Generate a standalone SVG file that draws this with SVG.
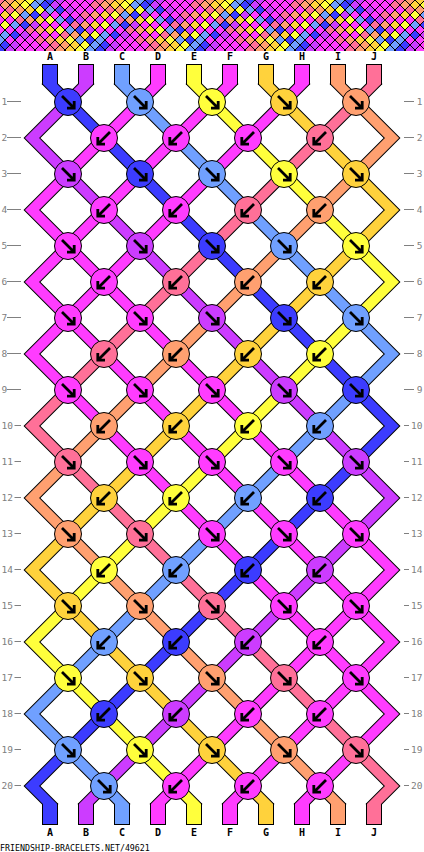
<svg xmlns="http://www.w3.org/2000/svg" xmlns:xlink="http://www.w3.org/1999/xlink" width="424" height="852" viewBox="0 0 424 852">
<style>
.bl{fill:#3c3cff}.pu{fill:#cc3cff}.lb{fill:#70a0ff}.ma{fill:#ff3cff}.ye{fill:#ffff3c}.go{fill:#ffd23c}.sa{fill:#ffa070}.pk{fill:#ff7098}
.dm{stroke:#000;stroke-width:1}
.o{fill:none;stroke:#000;stroke-width:12;stroke-linejoin:miter;stroke-linecap:square}
.c{fill:none;stroke-width:10;stroke-linejoin:miter;stroke-linecap:square}
.kn circle{stroke:#000;stroke-width:1}
.ar{fill:none;stroke:#000;stroke-width:2.8;stroke-linejoin:miter}
.let{font-family:"DejaVu Sans Mono","Liberation Mono",monospace;font-weight:bold;font-size:10px;text-anchor:middle;fill:#000}
.rn{font-family:"DejaVu Sans Mono","Liberation Mono",monospace;font-size:9.5px;fill:#808080}
.rr{text-anchor:end}
.dash{stroke:#808080;stroke-width:1}
.ft{font-family:"DejaVu Sans Mono","Liberation Mono",monospace;font-size:8.3px;fill:#000}
</style>
<defs>
<path id="dm" d="M-5,0L0,-5L5,0L0,5Z"/>
<path id="fw" class="ar" d="M-6,-6L5.5,5.5M6.2,-1V6.2H-1"/>
<path id="bw" class="ar" d="M6,-6L-5.5,5.5M-6.2,-1V6.2H1"/>
<path id="pA" d="M50,84L392,426L32,786L50,804"/>
<path id="pB" d="M86,84L32,138L392,498L86,804"/>
<path id="pC" d="M122,84L392,354L32,714L122,804"/>
<path id="pD" d="M158,84L32,210L392,570L158,804"/>
<path id="pE" d="M194,84L392,282L32,642L194,804"/>
<path id="pF" d="M230,84L32,282L392,642L230,804"/>
<path id="pG" d="M266,84L392,210L32,570L266,804"/>
<path id="pH" d="M302,84L32,354L392,714L302,804"/>
<path id="pI" d="M338,84L392,138L32,498L338,804"/>
<path id="pJ" d="M374,84L32,426L392,786L374,804"/>
<pattern id="strip" patternUnits="userSpaceOnUse" x="0" y="0" width="100" height="60">
<g class="dm">
<use href="#dm" x="0" y="50" class="bl"/><use href="#dm" x="0" y="40" class="lb"/><use href="#dm" x="0" y="30" class="ma"/><use href="#dm" x="0" y="20" class="ma"/><use href="#dm" x="0" y="10" class="ma"/><use href="#dm" x="0" y="0" class="pk"/>
<use href="#dm" x="5" y="45" class="bl"/><use href="#dm" x="5" y="35" class="lb"/><use href="#dm" x="5" y="25" class="ye"/><use href="#dm" x="5" y="15" class="go"/><use href="#dm" x="5" y="5" class="sa"/>
<use href="#dm" x="10" y="50" class="pu"/><use href="#dm" x="10" y="40" class="ma"/><use href="#dm" x="10" y="30" class="ma"/><use href="#dm" x="10" y="20" class="ma"/><use href="#dm" x="10" y="10" class="pk"/><use href="#dm" x="10" y="0" class="sa"/>
<use href="#dm" x="15" y="45" class="pu"/><use href="#dm" x="15" y="35" class="bl"/><use href="#dm" x="15" y="25" class="lb"/><use href="#dm" x="15" y="15" class="ye"/><use href="#dm" x="15" y="5" class="go"/>
<use href="#dm" x="20" y="50" class="ma"/><use href="#dm" x="20" y="40" class="ma"/><use href="#dm" x="20" y="30" class="ma"/><use href="#dm" x="20" y="20" class="pk"/><use href="#dm" x="20" y="10" class="sa"/><use href="#dm" x="20" y="0" class="go"/>
<use href="#dm" x="25" y="45" class="ma"/><use href="#dm" x="25" y="35" class="pu"/><use href="#dm" x="25" y="25" class="bl"/><use href="#dm" x="25" y="15" class="lb"/><use href="#dm" x="25" y="5" class="ye"/>
<use href="#dm" x="30" y="50" class="ma"/><use href="#dm" x="30" y="40" class="ma"/><use href="#dm" x="30" y="30" class="pk"/><use href="#dm" x="30" y="20" class="sa"/><use href="#dm" x="30" y="10" class="go"/><use href="#dm" x="30" y="0" class="ye"/>
<use href="#dm" x="35" y="45" class="ma"/><use href="#dm" x="35" y="35" class="ma"/><use href="#dm" x="35" y="25" class="pu"/><use href="#dm" x="35" y="15" class="bl"/><use href="#dm" x="35" y="5" class="lb"/>
<use href="#dm" x="40" y="50" class="ma"/><use href="#dm" x="40" y="40" class="pk"/><use href="#dm" x="40" y="30" class="sa"/><use href="#dm" x="40" y="20" class="go"/><use href="#dm" x="40" y="10" class="ye"/><use href="#dm" x="40" y="0" class="lb"/>
<use href="#dm" x="45" y="45" class="ma"/><use href="#dm" x="45" y="35" class="ma"/><use href="#dm" x="45" y="25" class="ma"/><use href="#dm" x="45" y="15" class="pu"/><use href="#dm" x="45" y="5" class="bl"/>
<use href="#dm" x="50" y="50" class="pk"/><use href="#dm" x="50" y="40" class="sa"/><use href="#dm" x="50" y="30" class="go"/><use href="#dm" x="50" y="20" class="ye"/><use href="#dm" x="50" y="10" class="lb"/><use href="#dm" x="50" y="0" class="bl"/>
<use href="#dm" x="55" y="45" class="pk"/><use href="#dm" x="55" y="35" class="ma"/><use href="#dm" x="55" y="25" class="ma"/><use href="#dm" x="55" y="15" class="ma"/><use href="#dm" x="55" y="5" class="pu"/>
<use href="#dm" x="60" y="50" class="sa"/><use href="#dm" x="60" y="40" class="go"/><use href="#dm" x="60" y="30" class="ye"/><use href="#dm" x="60" y="20" class="lb"/><use href="#dm" x="60" y="10" class="bl"/><use href="#dm" x="60" y="0" class="pu"/>
<use href="#dm" x="65" y="45" class="sa"/><use href="#dm" x="65" y="35" class="pk"/><use href="#dm" x="65" y="25" class="ma"/><use href="#dm" x="65" y="15" class="ma"/><use href="#dm" x="65" y="5" class="ma"/>
<use href="#dm" x="70" y="50" class="go"/><use href="#dm" x="70" y="40" class="ye"/><use href="#dm" x="70" y="30" class="lb"/><use href="#dm" x="70" y="20" class="bl"/><use href="#dm" x="70" y="10" class="pu"/><use href="#dm" x="70" y="0" class="ma"/>
<use href="#dm" x="75" y="45" class="go"/><use href="#dm" x="75" y="35" class="sa"/><use href="#dm" x="75" y="25" class="pk"/><use href="#dm" x="75" y="15" class="ma"/><use href="#dm" x="75" y="5" class="ma"/>
<use href="#dm" x="80" y="50" class="ye"/><use href="#dm" x="80" y="40" class="lb"/><use href="#dm" x="80" y="30" class="bl"/><use href="#dm" x="80" y="20" class="pu"/><use href="#dm" x="80" y="10" class="ma"/><use href="#dm" x="80" y="0" class="ma"/>
<use href="#dm" x="85" y="45" class="ye"/><use href="#dm" x="85" y="35" class="go"/><use href="#dm" x="85" y="25" class="sa"/><use href="#dm" x="85" y="15" class="pk"/><use href="#dm" x="85" y="5" class="ma"/>
<use href="#dm" x="90" y="50" class="lb"/><use href="#dm" x="90" y="40" class="bl"/><use href="#dm" x="90" y="30" class="pu"/><use href="#dm" x="90" y="20" class="ma"/><use href="#dm" x="90" y="10" class="ma"/><use href="#dm" x="90" y="0" class="ma"/>
<use href="#dm" x="95" y="45" class="lb"/><use href="#dm" x="95" y="35" class="ye"/><use href="#dm" x="95" y="25" class="go"/><use href="#dm" x="95" y="15" class="sa"/><use href="#dm" x="95" y="5" class="pk"/>
<use href="#dm" x="100" y="50" class="bl"/><use href="#dm" x="100" y="40" class="lb"/><use href="#dm" x="100" y="30" class="ma"/><use href="#dm" x="100" y="20" class="ma"/><use href="#dm" x="100" y="10" class="ma"/><use href="#dm" x="100" y="0" class="pk"/>
</g>
</pattern>
</defs>
<rect width="424" height="852" fill="#fff"/>
<g id="preview"><rect x="0" y="0" width="424" height="51" fill="url(#strip)"/></g>
<g id="letters" class="let">
<text x="50" y="60">A</text><text x="86" y="60">B</text><text x="122" y="60">C</text><text x="158" y="60">D</text><text x="194" y="60">E</text><text x="230" y="60">F</text><text x="266" y="60">G</text><text x="302" y="60">H</text><text x="338" y="60">I</text><text x="374" y="60">J</text>
<text x="50" y="836">A</text><text x="86" y="836">B</text><text x="122" y="836">C</text><text x="158" y="836">D</text><text x="194" y="836">E</text><text x="230" y="836">F</text><text x="266" y="836">G</text><text x="302" y="836">H</text><text x="338" y="836">I</text><text x="374" y="836">J</text>
</g>
<g id="row-labels">
<g class="rn">
<text x="1.5" y="105.3">1</text><text x="1.5" y="141.3">2</text><text x="1.5" y="177.3">3</text><text x="1.5" y="213.3">4</text><text x="1.5" y="249.3">5</text><text x="1.5" y="285.3">6</text><text x="1.5" y="321.3">7</text><text x="1.5" y="357.3">8</text><text x="1.5" y="393.3">9</text><text x="1.5" y="429.3">10</text><text x="1.5" y="465.3">11</text><text x="1.5" y="501.3">12</text><text x="1.5" y="537.3">13</text><text x="1.5" y="573.3">14</text><text x="1.5" y="609.3">15</text><text x="1.5" y="645.3">16</text><text x="1.5" y="681.3">17</text><text x="1.5" y="717.3">18</text><text x="1.5" y="753.3">19</text><text x="1.5" y="789.3">20</text>
</g>
<g class="rn rr">
<text x="422.5" y="105.3">1</text><text x="422.5" y="141.3">2</text><text x="422.5" y="177.3">3</text><text x="422.5" y="213.3">4</text><text x="422.5" y="249.3">5</text><text x="422.5" y="285.3">6</text><text x="422.5" y="321.3">7</text><text x="422.5" y="357.3">8</text><text x="422.5" y="393.3">9</text><text x="422.5" y="429.3">10</text><text x="422.5" y="465.3">11</text><text x="422.5" y="501.3">12</text><text x="422.5" y="537.3">13</text><text x="422.5" y="573.3">14</text><text x="422.5" y="609.3">15</text><text x="422.5" y="645.3">16</text><text x="422.5" y="681.3">17</text><text x="422.5" y="717.3">18</text><text x="422.5" y="753.3">19</text><text x="422.5" y="789.3">20</text>
</g>
<path class="dash" d="M7,101.5H21M7,137.5H21M7,173.5H21M7,209.5H21M7,245.5H21M7,281.5H21M7,317.5H21M7,353.5H21M7,389.5H21M14.5,425.5H21M14.5,461.5H21M14.5,497.5H21M14.5,533.5H21M14.5,569.5H21M14.5,605.5H21M14.5,641.5H21M14.5,677.5H21M14.5,713.5H21M14.5,749.5H21M14.5,785.5H21"/>
<path class="dash" d="M404,101.5H414M404,137.5H414M404,173.5H414M404,209.5H414M404,245.5H414M404,281.5H414M404,317.5H414M404,353.5H414M404,389.5H414M404,425.5H409M404,461.5H409M404,497.5H409M404,533.5H409M404,569.5H409M404,605.5H409M404,641.5H409M404,677.5H409M404,713.5H409M404,749.5H409M404,785.5H409"/>
</g>
<g id="connectors">
<g fill="#000">
<rect x="42" y="64" width="16" height="21"/><rect x="78" y="64" width="16" height="21"/><rect x="114" y="64" width="16" height="21"/><rect x="150" y="64" width="16" height="21"/><rect x="186" y="64" width="16" height="21"/><rect x="222" y="64" width="16" height="21"/><rect x="258" y="64" width="16" height="21"/><rect x="294" y="64" width="16" height="21"/><rect x="330" y="64" width="16" height="21"/><rect x="366" y="64" width="16" height="21"/>
<rect x="42" y="803" width="16" height="22"/><rect x="78" y="803" width="16" height="22"/><rect x="114" y="803" width="16" height="22"/><rect x="150" y="803" width="16" height="22"/><rect x="186" y="803" width="16" height="22"/><rect x="222" y="803" width="16" height="22"/><rect x="258" y="803" width="16" height="22"/><rect x="294" y="803" width="16" height="22"/><rect x="330" y="803" width="16" height="22"/><rect x="366" y="803" width="16" height="22"/>
</g>
<use href="#pA" class="o"/><use href="#pB" class="o"/><use href="#pC" class="o"/><use href="#pD" class="o"/><use href="#pE" class="o"/><use href="#pF" class="o"/><use href="#pG" class="o"/><use href="#pH" class="o"/><use href="#pI" class="o"/><use href="#pJ" class="o"/>
<rect x="43" y="65" width="14" height="19" class="bl"/><rect x="79" y="65" width="14" height="19" class="pu"/><rect x="115" y="65" width="14" height="19" class="lb"/><rect x="151" y="65" width="14" height="19" class="ma"/><rect x="187" y="65" width="14" height="19" class="ye"/><rect x="223" y="65" width="14" height="19" class="ma"/><rect x="259" y="65" width="14" height="19" class="go"/><rect x="295" y="65" width="14" height="19" class="ma"/><rect x="331" y="65" width="14" height="19" class="sa"/><rect x="367" y="65" width="14" height="19" class="pk"/>
<rect x="43" y="804" width="14" height="20" class="bl"/><rect x="79" y="804" width="14" height="20" class="pu"/><rect x="115" y="804" width="14" height="20" class="lb"/><rect x="151" y="804" width="14" height="20" class="ma"/><rect x="187" y="804" width="14" height="20" class="ye"/><rect x="223" y="804" width="14" height="20" class="ma"/><rect x="259" y="804" width="14" height="20" class="go"/><rect x="295" y="804" width="14" height="20" class="ma"/><rect x="331" y="804" width="14" height="20" class="sa"/><rect x="367" y="804" width="14" height="20" class="pk"/>
<use href="#pA" class="c" stroke="#3c3cff"/><use href="#pB" class="c" stroke="#cc3cff"/><use href="#pC" class="c" stroke="#70a0ff"/><use href="#pD" class="c" stroke="#ff3cff"/><use href="#pE" class="c" stroke="#ffff3c"/><use href="#pF" class="c" stroke="#ff3cff"/><use href="#pG" class="c" stroke="#ffd23c"/><use href="#pH" class="c" stroke="#ff3cff"/><use href="#pI" class="c" stroke="#ffa070"/><use href="#pJ" class="c" stroke="#ff7098"/>
</g>
<g id="knots">
<g id="k1-1" class="kn" transform="translate(68 102)"><circle r="13.5" class="bl"/><use href="#fw"/></g>
<g id="k1-2" class="kn" transform="translate(140 102)"><circle r="13.5" class="lb"/><use href="#fw"/></g>
<g id="k1-3" class="kn" transform="translate(212 102)"><circle r="13.5" class="ye"/><use href="#fw"/></g>
<g id="k1-4" class="kn" transform="translate(284 102)"><circle r="13.5" class="go"/><use href="#fw"/></g>
<g id="k1-5" class="kn" transform="translate(356 102)"><circle r="13.5" class="sa"/><use href="#fw"/></g>
<g id="k2-1" class="kn" transform="translate(104 138)"><circle r="13.5" class="ma"/><use href="#bw"/></g>
<g id="k2-2" class="kn" transform="translate(176 138)"><circle r="13.5" class="ma"/><use href="#bw"/></g>
<g id="k2-3" class="kn" transform="translate(248 138)"><circle r="13.5" class="ma"/><use href="#bw"/></g>
<g id="k2-4" class="kn" transform="translate(320 138)"><circle r="13.5" class="pk"/><use href="#bw"/></g>
<g id="k3-1" class="kn" transform="translate(68 174)"><circle r="13.5" class="pu"/><use href="#fw"/></g>
<g id="k3-2" class="kn" transform="translate(140 174)"><circle r="13.5" class="bl"/><use href="#fw"/></g>
<g id="k3-3" class="kn" transform="translate(212 174)"><circle r="13.5" class="lb"/><use href="#fw"/></g>
<g id="k3-4" class="kn" transform="translate(284 174)"><circle r="13.5" class="ye"/><use href="#fw"/></g>
<g id="k3-5" class="kn" transform="translate(356 174)"><circle r="13.5" class="go"/><use href="#fw"/></g>
<g id="k4-1" class="kn" transform="translate(104 210)"><circle r="13.5" class="ma"/><use href="#bw"/></g>
<g id="k4-2" class="kn" transform="translate(176 210)"><circle r="13.5" class="ma"/><use href="#bw"/></g>
<g id="k4-3" class="kn" transform="translate(248 210)"><circle r="13.5" class="pk"/><use href="#bw"/></g>
<g id="k4-4" class="kn" transform="translate(320 210)"><circle r="13.5" class="sa"/><use href="#bw"/></g>
<g id="k5-1" class="kn" transform="translate(68 246)"><circle r="13.5" class="ma"/><use href="#fw"/></g>
<g id="k5-2" class="kn" transform="translate(140 246)"><circle r="13.5" class="pu"/><use href="#fw"/></g>
<g id="k5-3" class="kn" transform="translate(212 246)"><circle r="13.5" class="bl"/><use href="#fw"/></g>
<g id="k5-4" class="kn" transform="translate(284 246)"><circle r="13.5" class="lb"/><use href="#fw"/></g>
<g id="k5-5" class="kn" transform="translate(356 246)"><circle r="13.5" class="ye"/><use href="#fw"/></g>
<g id="k6-1" class="kn" transform="translate(104 282)"><circle r="13.5" class="ma"/><use href="#bw"/></g>
<g id="k6-2" class="kn" transform="translate(176 282)"><circle r="13.5" class="pk"/><use href="#bw"/></g>
<g id="k6-3" class="kn" transform="translate(248 282)"><circle r="13.5" class="sa"/><use href="#bw"/></g>
<g id="k6-4" class="kn" transform="translate(320 282)"><circle r="13.5" class="go"/><use href="#bw"/></g>
<g id="k7-1" class="kn" transform="translate(68 318)"><circle r="13.5" class="ma"/><use href="#fw"/></g>
<g id="k7-2" class="kn" transform="translate(140 318)"><circle r="13.5" class="ma"/><use href="#fw"/></g>
<g id="k7-3" class="kn" transform="translate(212 318)"><circle r="13.5" class="pu"/><use href="#fw"/></g>
<g id="k7-4" class="kn" transform="translate(284 318)"><circle r="13.5" class="bl"/><use href="#fw"/></g>
<g id="k7-5" class="kn" transform="translate(356 318)"><circle r="13.5" class="lb"/><use href="#fw"/></g>
<g id="k8-1" class="kn" transform="translate(104 354)"><circle r="13.5" class="pk"/><use href="#bw"/></g>
<g id="k8-2" class="kn" transform="translate(176 354)"><circle r="13.5" class="sa"/><use href="#bw"/></g>
<g id="k8-3" class="kn" transform="translate(248 354)"><circle r="13.5" class="go"/><use href="#bw"/></g>
<g id="k8-4" class="kn" transform="translate(320 354)"><circle r="13.5" class="ye"/><use href="#bw"/></g>
<g id="k9-1" class="kn" transform="translate(68 390)"><circle r="13.5" class="ma"/><use href="#fw"/></g>
<g id="k9-2" class="kn" transform="translate(140 390)"><circle r="13.5" class="ma"/><use href="#fw"/></g>
<g id="k9-3" class="kn" transform="translate(212 390)"><circle r="13.5" class="ma"/><use href="#fw"/></g>
<g id="k9-4" class="kn" transform="translate(284 390)"><circle r="13.5" class="pu"/><use href="#fw"/></g>
<g id="k9-5" class="kn" transform="translate(356 390)"><circle r="13.5" class="bl"/><use href="#fw"/></g>
<g id="k10-1" class="kn" transform="translate(104 426)"><circle r="13.5" class="sa"/><use href="#bw"/></g>
<g id="k10-2" class="kn" transform="translate(176 426)"><circle r="13.5" class="go"/><use href="#bw"/></g>
<g id="k10-3" class="kn" transform="translate(248 426)"><circle r="13.5" class="ye"/><use href="#bw"/></g>
<g id="k10-4" class="kn" transform="translate(320 426)"><circle r="13.5" class="lb"/><use href="#bw"/></g>
<g id="k11-1" class="kn" transform="translate(68 462)"><circle r="13.5" class="pk"/><use href="#fw"/></g>
<g id="k11-2" class="kn" transform="translate(140 462)"><circle r="13.5" class="ma"/><use href="#fw"/></g>
<g id="k11-3" class="kn" transform="translate(212 462)"><circle r="13.5" class="ma"/><use href="#fw"/></g>
<g id="k11-4" class="kn" transform="translate(284 462)"><circle r="13.5" class="ma"/><use href="#fw"/></g>
<g id="k11-5" class="kn" transform="translate(356 462)"><circle r="13.5" class="pu"/><use href="#fw"/></g>
<g id="k12-1" class="kn" transform="translate(104 498)"><circle r="13.5" class="go"/><use href="#bw"/></g>
<g id="k12-2" class="kn" transform="translate(176 498)"><circle r="13.5" class="ye"/><use href="#bw"/></g>
<g id="k12-3" class="kn" transform="translate(248 498)"><circle r="13.5" class="lb"/><use href="#bw"/></g>
<g id="k12-4" class="kn" transform="translate(320 498)"><circle r="13.5" class="bl"/><use href="#bw"/></g>
<g id="k13-1" class="kn" transform="translate(68 534)"><circle r="13.5" class="sa"/><use href="#fw"/></g>
<g id="k13-2" class="kn" transform="translate(140 534)"><circle r="13.5" class="pk"/><use href="#fw"/></g>
<g id="k13-3" class="kn" transform="translate(212 534)"><circle r="13.5" class="ma"/><use href="#fw"/></g>
<g id="k13-4" class="kn" transform="translate(284 534)"><circle r="13.5" class="ma"/><use href="#fw"/></g>
<g id="k13-5" class="kn" transform="translate(356 534)"><circle r="13.5" class="ma"/><use href="#fw"/></g>
<g id="k14-1" class="kn" transform="translate(104 570)"><circle r="13.5" class="ye"/><use href="#bw"/></g>
<g id="k14-2" class="kn" transform="translate(176 570)"><circle r="13.5" class="lb"/><use href="#bw"/></g>
<g id="k14-3" class="kn" transform="translate(248 570)"><circle r="13.5" class="bl"/><use href="#bw"/></g>
<g id="k14-4" class="kn" transform="translate(320 570)"><circle r="13.5" class="pu"/><use href="#bw"/></g>
<g id="k15-1" class="kn" transform="translate(68 606)"><circle r="13.5" class="go"/><use href="#fw"/></g>
<g id="k15-2" class="kn" transform="translate(140 606)"><circle r="13.5" class="sa"/><use href="#fw"/></g>
<g id="k15-3" class="kn" transform="translate(212 606)"><circle r="13.5" class="pk"/><use href="#fw"/></g>
<g id="k15-4" class="kn" transform="translate(284 606)"><circle r="13.5" class="ma"/><use href="#fw"/></g>
<g id="k15-5" class="kn" transform="translate(356 606)"><circle r="13.5" class="ma"/><use href="#fw"/></g>
<g id="k16-1" class="kn" transform="translate(104 642)"><circle r="13.5" class="lb"/><use href="#bw"/></g>
<g id="k16-2" class="kn" transform="translate(176 642)"><circle r="13.5" class="bl"/><use href="#bw"/></g>
<g id="k16-3" class="kn" transform="translate(248 642)"><circle r="13.5" class="pu"/><use href="#bw"/></g>
<g id="k16-4" class="kn" transform="translate(320 642)"><circle r="13.5" class="ma"/><use href="#bw"/></g>
<g id="k17-1" class="kn" transform="translate(68 678)"><circle r="13.5" class="ye"/><use href="#fw"/></g>
<g id="k17-2" class="kn" transform="translate(140 678)"><circle r="13.5" class="go"/><use href="#fw"/></g>
<g id="k17-3" class="kn" transform="translate(212 678)"><circle r="13.5" class="sa"/><use href="#fw"/></g>
<g id="k17-4" class="kn" transform="translate(284 678)"><circle r="13.5" class="pk"/><use href="#fw"/></g>
<g id="k17-5" class="kn" transform="translate(356 678)"><circle r="13.5" class="ma"/><use href="#fw"/></g>
<g id="k18-1" class="kn" transform="translate(104 714)"><circle r="13.5" class="bl"/><use href="#bw"/></g>
<g id="k18-2" class="kn" transform="translate(176 714)"><circle r="13.5" class="pu"/><use href="#bw"/></g>
<g id="k18-3" class="kn" transform="translate(248 714)"><circle r="13.5" class="ma"/><use href="#bw"/></g>
<g id="k18-4" class="kn" transform="translate(320 714)"><circle r="13.5" class="ma"/><use href="#bw"/></g>
<g id="k19-1" class="kn" transform="translate(68 750)"><circle r="13.5" class="lb"/><use href="#fw"/></g>
<g id="k19-2" class="kn" transform="translate(140 750)"><circle r="13.5" class="ye"/><use href="#fw"/></g>
<g id="k19-3" class="kn" transform="translate(212 750)"><circle r="13.5" class="go"/><use href="#fw"/></g>
<g id="k19-4" class="kn" transform="translate(284 750)"><circle r="13.5" class="sa"/><use href="#fw"/></g>
<g id="k19-5" class="kn" transform="translate(356 750)"><circle r="13.5" class="pk"/><use href="#fw"/></g>
<g id="k20-1" class="kn" transform="translate(104 786)"><circle r="13.5" class="lb"/><use href="#fw"/></g>
<g id="k20-2" class="kn" transform="translate(176 786)"><circle r="13.5" class="ma"/><use href="#bw"/></g>
<g id="k20-3" class="kn" transform="translate(248 786)"><circle r="13.5" class="ma"/><use href="#bw"/></g>
<g id="k20-4" class="kn" transform="translate(320 786)"><circle r="13.5" class="ma"/><use href="#bw"/></g>
</g>
<text x="0" y="851" class="ft">FRIENDSHIP-BRACELETS.NET/49621</text>
</svg>
